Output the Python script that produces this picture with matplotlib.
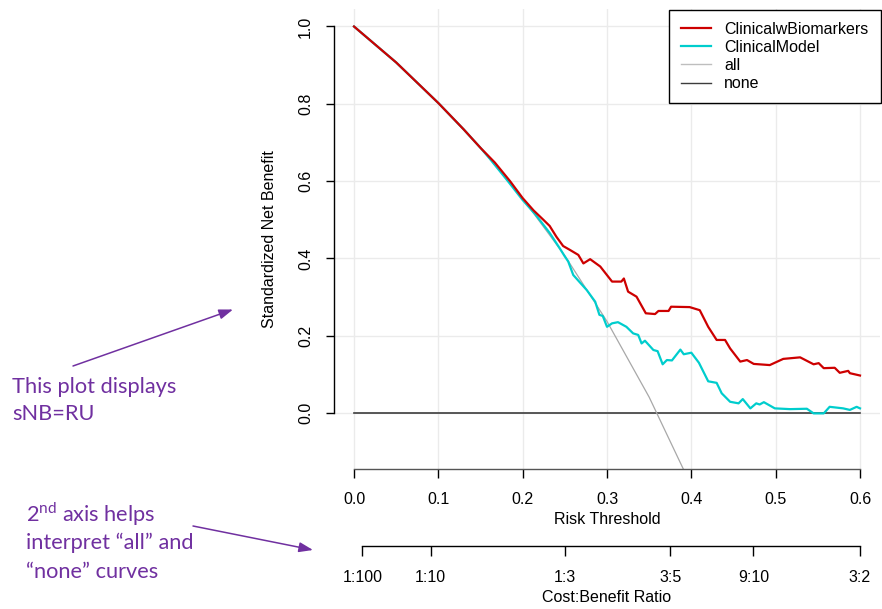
import matplotlib
matplotlib.use("Agg")
import matplotlib.pyplot as plt
from matplotlib.lines import Line2D
from matplotlib.patches import FancyArrowPatch

# ---------------- data ----------------
bio_t = [0, 0.05, 0.1, 0.13, 0.15, 0.167, 0.185, 0.2, 0.213, 0.2245, 0.232, 0.240, 0.248,
         0.256, 0.266, 0.272, 0.280, 0.292, 0.306, 0.317, 0.320, 0.325, 0.335, 0.346, 0.357,
         0.361, 0.373, 0.376, 0.398, 0.410, 0.420, 0.430, 0.440, 0.446, 0.458, 0.466, 0.474,
         0.493, 0.509, 0.529, 0.545, 0.551, 0.557, 0.570, 0.576, 0.586, 0.588, 0.600]
bio_v = [1.0, 0.907, 0.802, 0.734, 0.686, 0.648, 0.600, 0.556, 0.524, 0.500, 0.484, 0.456, 0.432,
         0.422, 0.409, 0.387, 0.398, 0.379, 0.340, 0.340, 0.348, 0.314, 0.301, 0.258, 0.256,
         0.264, 0.264, 0.275, 0.274, 0.266, 0.223, 0.189, 0.189, 0.167, 0.133, 0.137, 0.127,
         0.124, 0.140, 0.144, 0.126, 0.129, 0.116, 0.117, 0.104, 0.109, 0.103, 0.097]

clin_t = [0, 0.05, 0.1, 0.13, 0.15, 0.161, 0.181, 0.2, 0.215, 0.232, 0.244, 0.250, 0.254,
          0.260, 0.276, 0.286, 0.291, 0.295, 0.300, 0.306, 0.313, 0.323, 0.331, 0.337, 0.341,
          0.345, 0.355, 0.360, 0.366, 0.371, 0.377, 0.387, 0.391, 0.400, 0.409, 0.420, 0.430,
          0.436, 0.446, 0.456, 0.461, 0.470, 0.477, 0.481, 0.486, 0.499, 0.517, 0.537, 0.545,
          0.557, 0.564, 0.580, 0.588, 0.596, 0.600]
clin_v = [1.0, 0.907, 0.802, 0.734, 0.686, 0.658, 0.604, 0.551, 0.514, 0.466, 0.426, 0.405, 0.392,
          0.357, 0.318, 0.288, 0.254, 0.251, 0.223, 0.232, 0.235, 0.223, 0.206, 0.202, 0.180,
          0.187, 0.163, 0.160, 0.126, 0.137, 0.136, 0.164, 0.152, 0.156, 0.130, 0.082, 0.078,
          0.051, 0.029, 0.025, 0.036, 0.012, 0.025, 0.022, 0.028, 0.012, 0.010, 0.011, -0.001,
          -0.001, 0.016, 0.012, 0.008, 0.016, 0.012]

all_t = [0, 0.05, 0.1, 0.15, 0.2, 0.25, 0.3, 0.35, 0.3905]
all_v = [1.0, 0.906, 0.802, 0.686, 0.555, 0.407, 0.237, 0.041, -0.145]

none_t = [0, 0.6]
none_v = [0, 0]

x_ticks = [0.0, 0.1, 0.2, 0.3, 0.4, 0.5, 0.6]
y_ticks = [0.0, 0.2, 0.4, 0.6, 0.8, 1.0]
cb_labels = ["1:100", "1:10", "1:3", "3:5", "9:10", "3:2"]
cb_cost = [1, 1, 1, 3, 9, 3]
cb_benefit = [100, 10, 3, 5, 10, 2]

# ---------------- figure ----------------
W, H = 882, 609
fig = plt.figure(figsize=(W / 100, H / 100), dpi=100)
plt.rcParams['font.family'] = ['Liberation Sans', 'DejaVu Sans']
FS = 11.5

def fx(px):
    return px / W

def fy(py):
    return (H - py) / H

left_px, right_px, top_px, bot_px = 334, 880, 9, 469
ax = fig.add_axes([fx(left_px), fy(bot_px), (right_px - left_px) / W, (bot_px - top_px) / H])

# data scale: t=0 at 354, t=0.6 at 860 ; v=0 at 413, v=1 at 26.5
sx = (860 - 354) / 0.6
sy = (413 - 26.5) / 1.0
ax.set_xlim((left_px - 354) / sx, (right_px - 354) / sx)
ax.set_ylim((413 - bot_px) / sy, (413 - top_px) / sy)

ax.grid(True, color='#EBEBEB', lw=1.0)
ax.set_axisbelow(True)

red = '#CD0000'
cyan = '#00CDCD'
ax.plot(none_t, none_v, color='#3C3C3C', lw=1.2, label='none', zorder=2)
ax.plot(all_t, all_v, color='#A8A8A8', lw=0.9, label='all', zorder=2)
ax.plot(clin_t, clin_v, color=cyan, lw=1.6, label='ClinicalModel', zorder=3)
ax.plot(bio_t, bio_v, color=red, lw=1.6, label='ClinicalwBiomarkers', zorder=4)

for s in ['top', 'right']:
    ax.spines[s].set_visible(False)
ax.spines['left'].set_bounds(0, 1)
ax.spines['bottom'].set_bounds(0, 0.6)
ax.spines['left'].set_linewidth(1.0)
ax.spines['bottom'].set_linewidth(1.0)
ax.spines['bottom'].set_color('#555555')

ax.set_xticks(x_ticks)
ax.set_xticklabels([f"{v:.1f}" for v in x_ticks])
ax.set_yticks(y_ticks)
ax.set_yticklabels([f"{v:.1f}" for v in y_ticks], rotation=90, va='center')
ax.tick_params(axis='x', direction='out', length=6.8, width=1, pad=9.5, labelsize=FS, colors='black')
ax.tick_params(axis='y', direction='out', length=6, width=1, pad=9, labelsize=FS, colors='black')
ax.set_xlabel('Risk Threshold', fontsize=FS, labelpad=4)
ax.set_ylabel('Standardized Net Benefit', fontsize=FS, labelpad=15)

h = [Line2D([], [], color=red, lw=1.6),
     Line2D([], [], color=cyan, lw=1.6),
     Line2D([], [], color='#BEBEBE', lw=1.0),
     Line2D([], [], color='#3C3C3C', lw=1.0)]
leg = ax.legend(h, ['ClinicalwBiomarkers', 'ClinicalModel', 'all', 'none'],
                loc='upper right', bbox_to_anchor=(fx(880.5), fy(9.7)),
                bbox_transform=fig.transFigure, borderaxespad=0, fontsize=FS,
                frameon=True, fancybox=False, framealpha=1, edgecolor='black',
                handlelength=1.85, handletextpad=0.85, labelspacing=0.2, borderpad=0.75)
leg.get_frame().set_linewidth(1.0)

# ---------------- second axis ----------------
ax2 = fig.add_axes([fx(left_px), fy(545.7), (right_px - left_px) / W, 0.0001])
ax2.set_xlim(ax.get_xlim())
ax2.set_ylim(0, 1)
cb_pos = [c / (c + b) for c, b in zip(cb_cost, cb_benefit)]
for s in ['top', 'right', 'left']:
    ax2.spines[s].set_visible(False)
ax2.spines['bottom'].set_bounds(cb_pos[0], cb_pos[-1])
ax2.spines['bottom'].set_linewidth(1.0)
ax2.patch.set_visible(False)
ax2.set_yticks([])
ax2.set_xticks(cb_pos)
ax2.set_xticklabels(cb_labels)
ax2.tick_params(axis='x', direction='out', length=7.2, width=1, pad=10.5, labelsize=FS)
ax2.set_xlabel('Cost:Benefit Ratio', fontsize=FS, labelpad=3.5)

# ---------------- annotations ----------------
purple = '#7030A0'
afont = ['Lato', 'DejaVu Sans']
plt.rcParams['mathtext.fontset'] = 'custom'
plt.rcParams['mathtext.rm'] = 'Lato'
AFS = 15.7
fig.text(fx(12), fy(386.7), 'This plot displays', color=purple, fontsize=AFS,
         family=afont, va='center', ha='left')
fig.text(fx(12), fy(414.5), 'sNB=RU', color=purple, fontsize=AFS,
         family=afont, va='center', ha='left')
fig.text(fx(26), fy(514), r'2$^{\mathrm{nd}}$ axis helps', color=purple, fontsize=AFS,
         family=afont, va='center', ha='left')
fig.text(fx(26), fy(542.5), 'interpret \u201call\u201d and', color=purple,
         fontsize=AFS, family=afont, va='center', ha='left')
fig.text(fx(26), fy(571.5), '\u201cnone\u201d curves', color=purple, fontsize=AFS,
         family=afont, va='center', ha='left')

arrowprops = dict(arrowstyle='-|>,head_length=0.7,head_width=0.25', color=purple, lw=1.1,
                  shrinkA=0, shrinkB=0)
fig.add_artist(FancyArrowPatch(
    (fx(73), fy(366)), (fx(233), fy(309.5)), transform=fig.transFigure,
    mutation_scale=12, **arrowprops))
fig.add_artist(FancyArrowPatch(
    (fx(193), fy(526)), (fx(313), fy(550)), transform=fig.transFigure,
    mutation_scale=12, **arrowprops))

fig.savefig('out.png', dpi=100)
